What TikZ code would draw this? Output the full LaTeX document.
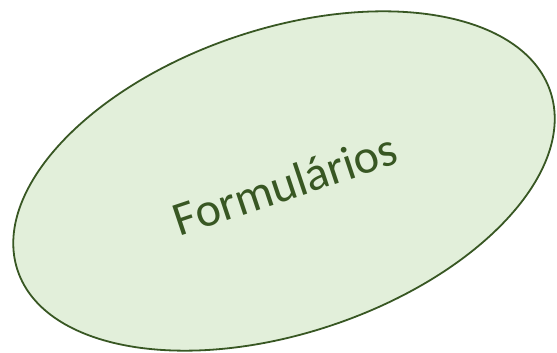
\documentclass[tikz,border=0pt]{standalone}
\usepackage{fontspec}
\setmainfont{Carlito}
\usetikzlibrary{shapes.geometric}
\definecolor{fillgreen}{HTML}{E2EFDA}
\definecolor{darkgreen}{HTML}{385723}
\tikzset{
  blob/.style={ellipse, draw=darkgreen, fill=fillgreen, line width=1.8pt, inner sep=0pt},
  lbl/.style={text=darkgreen, font=\fontsize{48}{52}\selectfont, inner sep=0pt}
}
\begin{document}
\begin{tikzpicture}[x=1pt,y=1pt]
\useasboundingbox (0,0) rectangle (557,353);
\node[blob, minimum width=562pt, minimum height=304pt, rotate=18.6] (ell) at (284,172) {};
\node[lbl, rotate=18.5, anchor=center] (t) at (285,169) {Formulários};
\end{tikzpicture}
\end{document}
